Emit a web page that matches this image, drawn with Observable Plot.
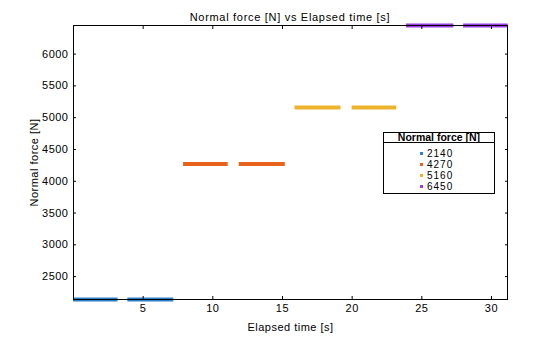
<!DOCTYPE html>
<html>
<head>
<meta charset="utf-8">
<script src="https://cdn.jsdelivr.net/npm/d3@7"></script>
<script src="https://cdn.jsdelivr.net/npm/@observablehq/plot@0.6"></script>
<style>
  body { margin: 0; background: #fff; font-family: "Liberation Sans", Arial, sans-serif; }
  #wrap { position: relative; width: 560px; height: 337px; overflow: hidden; }
  #title { height: 15px; padding-top: 10px; line-height: 14px; font-size: 11px; letter-spacing: 0.7px; text-align: center; padding-left: 20px; color: #000; }
  #legend { position: absolute; left: 383px; top: 132px; width: 110px; height: 60px; border: 1px solid #000; background: #fff; font-size: 10px; }
  #legend .lt { font-weight: bold; text-align: center; height: 9px; line-height: 9px; border-bottom: 1px solid #000; font-size: 10.5px; padding-bottom: 0px; }
  #legend .row { position: absolute; left: 36px; height: 11px; line-height: 11px; letter-spacing: 1px; }
  #legend .sw { display: inline-block; width: 3px; height: 3px; margin-right: 4px; vertical-align: middle; position: relative; top: -1px; }
</style>
</head>
<body>
<div id="wrap">
  <div id="title">Normal force [N] vs Elapsed time [s]</div>
  <div id="chart"></div>
  <div id="legend"></div>
</div>
<script>
const forces = [2140, 4270, 5160, 6450];
const colors = ["#2d7fca", "#e8631a", "#eeb32c", "#9a3ee0"];
const segForce = [2140, 2140, 4270, 4270, 5160, 5160, 6450, 6450];
const segStart = [0.0, 3.9, 7.9, 11.9, 15.9, 20.0, 23.9, 28.0];
const segEnd   = [3.2, 7.2, 11.1, 15.2, 19.2, 23.2, 27.3, 31.2];
const xTicks = [5, 10, 15, 20, 25, 30];
const yTicks = [2500, 3000, 3500, 4000, 4500, 5000, 5500, 6000];
const xDomain = [0, 31.15];
const yDomain = [2140, 6450];

const segments = segForce.map((f, i) => ({force: f, x1: segStart[i], x2: segEnd[i]}));
const noLabel = () => "";

const chart = Plot.plot({
  width: 560,
  height: 312,
  marginLeft: 73,
  marginRight: 53,
  marginTop: 0,
  marginBottom: 38,
  style: {fontFamily: "'Liberation Sans', Arial, sans-serif", fontSize: "11px", color: "#000", overflow: "visible", letterSpacing: "0.5px"},
  x: {domain: xDomain},
  y: {domain: yDomain},
  color: {domain: forces, range: colors},
  marks: [
    Plot.ruleY(segments, {y: "force", x1: "x1", x2: "x2", stroke: "force", strokeWidth: 4}),
    Plot.frame({stroke: "#000", strokeWidth: 1}),
    Plot.axisX(xTicks, {anchor: "bottom", tickSize: -3, tickPadding: 8, label: "Elapsed time [s]", labelAnchor: "center", labelArrow: "none", labelOffset: 31, tickFormat: d3.format("d")}),
    Plot.axisX(xTicks, {anchor: "top", tickSize: -3, tickFormat: noLabel, label: null}),
    Plot.axisY(yTicks, {anchor: "left", tickSize: -3, tickPadding: 8, label: "Normal force [N]", labelAnchor: "center", labelArrow: "none", labelOffset: 43, tickFormat: d3.format("d")}),
    Plot.axisY(yTicks, {anchor: "right", tickSize: -3, tickFormat: noLabel, label: null})
  ]
});
document.getElementById("chart").appendChild(chart);

const lg = document.getElementById("legend");
const t = document.createElement("div");
t.className = "lt";
t.textContent = "Normal force [N]";
lg.appendChild(t);
forces.forEach((f, i) => {
  const r = document.createElement("div");
  r.className = "row";
  r.style.top = (15 + i * 11) + "px";
  const s = document.createElement("span");
  s.className = "sw";
  s.style.background = colors[i];
  r.appendChild(s);
  r.appendChild(document.createTextNode(String(f)));
  lg.appendChild(r);
});
</script>
</body>
</html>
